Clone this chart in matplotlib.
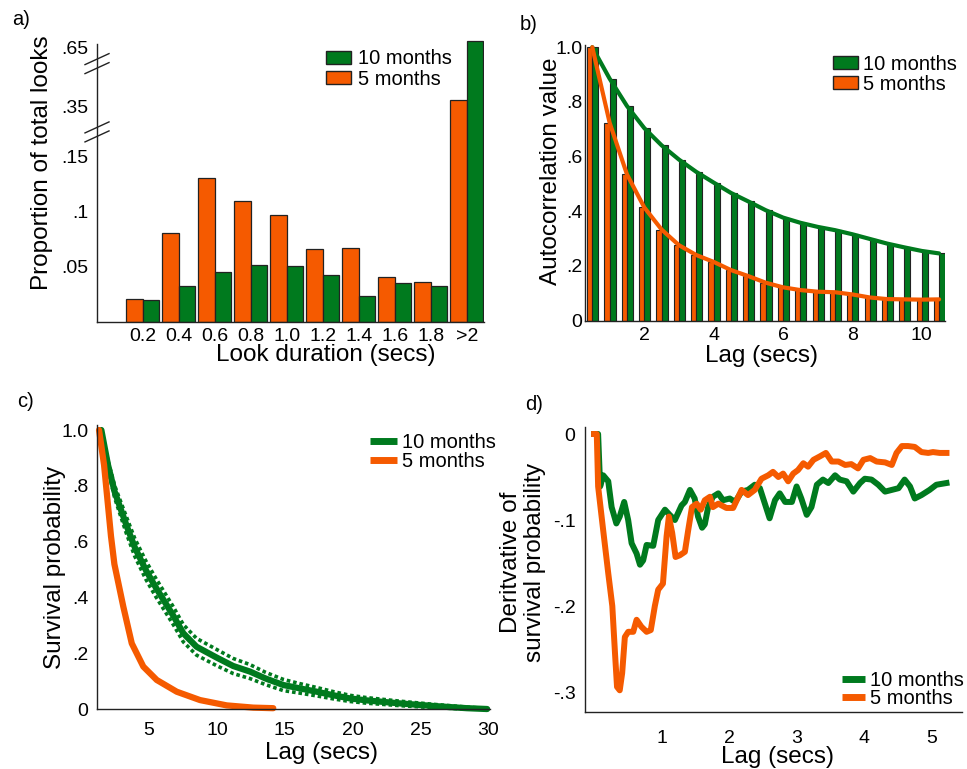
import numpy as np
import matplotlib
matplotlib.use("Agg")
from matplotlib import pyplot as plt
from matplotlib.patches import Patch
from matplotlib.lines import Line2D

plt.rcParams['font.family'] = ['Liberation Sans', 'DejaVu Sans']

GREEN = '#007a1e'
ORANGE = '#f55a00'
W, H = 967, 769

# a) proportion of looks per duration bin
duration_labels = ['0.2', '0.4', '0.6', '0.8', '1.0', '1.2', '1.4', '1.6', '1.8', '>2']
looks_5m = [0.021, 0.081, 0.131, 0.110, 0.097, 0.066, 0.067, 0.041, 0.036, 0.385]
looks_10m = [0.020, 0.033, 0.045, 0.052, 0.051, 0.043, 0.024, 0.035, 0.033, 0.685]

# b) autocorrelation
acf_lags = [0.5, 1.0, 1.5, 2.0, 2.5, 3.0, 3.5, 4.0, 4.5, 5.0, 5.5,
            6.0, 6.5, 7.0, 7.5, 8.0, 8.5, 9.0, 9.5, 10.0, 10.5]
acf_10m = [1.0, 0.885, 0.785, 0.704, 0.641, 0.589, 0.544, 0.505, 0.467, 0.436, 0.404,
           0.377, 0.358, 0.343, 0.331, 0.316, 0.299, 0.282, 0.268, 0.255, 0.246]
acf_5m = [1.0, 0.724, 0.535, 0.414, 0.333, 0.276, 0.24, 0.215, 0.185, 0.163, 0.139,
          0.122, 0.112, 0.106, 0.104, 0.096, 0.085, 0.079, 0.078, 0.077, 0.078]

# c) survival curves
surv_10m_x = [1.49, 1.98, 2.47, 3.33, 3.95, 4.76, 5.49, 6.79, 7.53, 8.5, 9.99, 11.2,
              12.44, 13.6, 14.89, 16.1, 17.35, 18.6, 19.8, 21.0, 23.5, 25.9, 28.4, 29.9]
surv_10m = [1.0, 0.875, 0.779, 0.66, 0.58, 0.499, 0.437, 0.335, 0.272, 0.224, 0.185, 0.155,
            0.135, 0.11, 0.087, 0.075, 0.063, 0.05, 0.039, 0.032, 0.021, 0.012, 0.004, 0.001]
surv_10m_hi = [1.0, 0.89, 0.801, 0.69, 0.612, 0.532, 0.47, 0.367, 0.303, 0.254, 0.214, 0.182,
               0.16, 0.132, 0.107, 0.092, 0.078, 0.063, 0.05, 0.042, 0.029, 0.018, 0.008, 0.003]
surv_10m_lo = [1.0, 0.86, 0.757, 0.63, 0.548, 0.466, 0.404, 0.303, 0.241, 0.194, 0.156, 0.128,
               0.11, 0.088, 0.067, 0.058, 0.048, 0.037, 0.028, 0.022, 0.013, 0.006, 0.001, 0.0]
surv_5m_x = [1.32, 1.69, 2.0, 2.2, 2.45, 3.11, 3.73, 4.58, 5.57, 7.04, 8.76, 10.72, 12.68, 14.15]
surv_5m = [1.0, 0.875, 0.72, 0.62, 0.52, 0.367, 0.236, 0.153, 0.105, 0.063, 0.033, 0.014, 0.006, 0.004]

# d) derivative of survival probability
deriv_10m_x = [0.0, 0.06, 0.09, 0.135, 0.21, 0.26, 0.33, 0.38, 0.446, 0.505, 0.556, 0.63,
               0.68, 0.727, 0.778, 0.876, 0.95, 1.05, 1.12, 1.197, 1.296, 1.345, 1.42, 1.49,
               1.54, 1.60, 1.64, 1.69, 1.76, 1.84, 1.91, 2.01, 2.09, 2.185, 2.28, 2.38,
               2.456, 2.53, 2.60, 2.68, 2.75, 2.83, 2.93, 3.0, 3.07, 3.15, 3.22, 3.30,
               3.39, 3.47, 3.57, 3.64, 3.74, 3.84, 3.94, 4.01, 4.11, 4.21, 4.31, 4.41,
               4.51, 4.60, 4.68, 4.75, 4.85, 4.97, 5.07, 5.22]
deriv_10m = [0.0, 0.0, -0.061, -0.048, -0.055, -0.085, -0.104, -0.096, -0.079, -0.1, -0.127, -0.139,
             -0.152, -0.147, -0.129, -0.130, -0.1, -0.088, -0.094, -0.1, -0.083, -0.079, -0.065, -0.075,
             -0.096, -0.109, -0.105, -0.085, -0.073, -0.069, -0.077, -0.075, -0.079, -0.067, -0.065, -0.059,
             -0.063, -0.081, -0.098, -0.077, -0.069, -0.079, -0.079, -0.061, -0.075, -0.094, -0.085, -0.059,
             -0.053, -0.057, -0.048, -0.053, -0.055, -0.067, -0.057, -0.052, -0.053, -0.059, -0.067, -0.065,
             -0.063, -0.053, -0.061, -0.075, -0.071, -0.065, -0.059, -0.057]
deriv_5m_x = [0.0, 0.04, 0.06, 0.135, 0.21, 0.27, 0.31, 0.34, 0.38, 0.416, 0.456, 0.506,
              0.58, 0.63, 0.70, 0.778, 0.84, 0.90, 0.95, 1.02, 1.074, 1.108, 1.157, 1.207,
              1.27, 1.345, 1.394, 1.45, 1.52, 1.58, 1.64, 1.716, 1.76, 1.84, 1.96, 2.06,
              2.185, 2.28, 2.38, 2.48, 2.58, 2.65, 2.73, 2.80, 2.875, 2.95, 3.02, 3.10,
              3.17, 3.25, 3.345, 3.434, 3.52, 3.62, 3.72, 3.81, 3.91, 3.99, 4.09, 4.185,
              4.31, 4.41, 4.48, 4.56, 4.65, 4.75, 4.85, 4.95, 5.02, 5.12, 5.22]
deriv_5m = [0.0, 0.0, -0.061, -0.112, -0.162, -0.2, -0.255, -0.294, -0.298, -0.278, -0.236, -0.23,
            -0.23, -0.216, -0.224, -0.23, -0.228, -0.2, -0.181, -0.174, -0.119, -0.096, -0.115, -0.143,
            -0.141, -0.137, -0.112, -0.085, -0.081, -0.088, -0.077, -0.073, -0.085, -0.081, -0.086, -0.086,
            -0.065, -0.071, -0.065, -0.052, -0.048, -0.044, -0.050, -0.046, -0.055, -0.046, -0.042, -0.034,
            -0.038, -0.030, -0.026, -0.022, -0.032, -0.032, -0.036, -0.035, -0.040, -0.030, -0.028, -0.032,
            -0.033, -0.036, -0.022, -0.014, -0.014, -0.015, -0.021, -0.022, -0.021, -0.022, -0.022]

fig = plt.figure(figsize=(W / 100, H / 100), dpi=100)


def px_axes(left, top, right, bottom):
    ax = fig.add_axes([left / W, 1 - bottom / H, (right - left) / W, (bottom - top) / H])
    for s in ['top', 'right']:
        ax.spines[s].set_visible(False)
    for s in ['left', 'bottom']:
        ax.spines[s].set_color('#222222')
        ax.spines[s].set_linewidth(1.0)
    ax.tick_params(length=0, labelsize=14)
    return ax


def place_legend(ax, handles, labels, left_px, top_px, **kw):
    ax.legend(handles, labels, loc='upper left',
              bbox_to_anchor=(left_px / W, 1 - top_px / H), bbox_transform=fig.transFigure,
              frameon=False, borderpad=0, borderaxespad=0, fontsize=14.5, **kw)


def line_handle(color):
    return Line2D([], [], color=color, lw=5, solid_capstyle='butt')


def patch_handle(color):
    return Patch(facecolor=color, edgecolor='#222222')


label_font = 17.5

# ---- a)
ax = px_axes(97, 40, 484, 322)
a_vals = [-1, 0, 0.15, 0.35, 0.65, 2]
a_pos = [-1100, 0, 165, 215, 274, 274 + 1.35 * 197]
ax.set_yscale('function', functions=(lambda v: np.interp(v, a_vals, a_pos),
                                     lambda p: np.interp(p, a_pos, a_vals)))
idx = np.arange(len(duration_labels))
ax.bar(idx - 0.23, looks_5m, width=0.46, color=ORANGE, edgecolor='#222222', linewidth=0.9)
ax.bar(idx + 0.23, looks_10m, width=0.46, color=GREEN, edgecolor='#222222', linewidth=0.9)
ax.set_xlim(-1.27, 9.48)
ax.set_ylim(0, 0.69)
ax.spines['left'].set_bounds(0, 0.67)
ax.set_xticks(idx, duration_labels)
ax.set_yticks([0.05, 0.1, 0.15, 0.35, 0.65], ['.05', '.1', '.15', '.35', '.65'])
ax.tick_params(axis='y', pad=6.3)
ax.tick_params(axis='x', pad=4)
ax.set_xlabel('Look duration (secs)', fontsize=label_font)
ax.xaxis.set_label_coords(0.592, -0.078)
ax.set_ylabel('Proportion of total looks', fontsize=label_font)
ax.yaxis.set_label_coords(-0.113, 0.566)
# axis break marks
for b in [0.25, 0.57]:
    yb = ax.transAxes.inverted().transform(ax.transData.transform((0, b)))[1]
    for off in [-4.5 / 282, 4.5 / 282]:
        ax.plot([-12 / 387, 12 / 387], [yb + off - 5.5 / 282, yb + off + 5.5 / 282],
                transform=ax.transAxes, color='#222222', lw=1.0, clip_on=False)
place_legend(ax, [patch_handle(GREEN), patch_handle(ORANGE)],
             ['10 months', '5 months'], 325.7, 49.5, handlelength=1.25, handleheight=0.65,
             handletextpad=0.37, labelspacing=0.05)

# ---- b)
ax = px_axes(585, 45, 945, 320.7)
lags = np.array(acf_lags)
ax.bar(lags - 0.075, acf_5m, width=0.15, color=ORANGE, edgecolor='#222222', linewidth=0.8)
ax.bar(lags + 0.085, acf_10m, width=0.17, color=GREEN, edgecolor='#222222', linewidth=0.8)
ax.plot(lags, acf_10m, color=GREEN, lw=3.0, zorder=3, solid_capstyle='round')
ax.plot(lags, acf_5m, color=ORANGE, lw=3.0, zorder=3, solid_capstyle='round')
ax.set_xlim(0.29, 10.67)
ax.set_ylim(0, 1.008)
ax.set_xticks([2, 4, 6, 8, 10])
ax.set_yticks([0, 0.2, 0.4, 0.6, 0.8, 1.0], ['0', '.2', '.4', '.6', '.8', '1.0'])
ax.tick_params(axis='y', pad=2)
ax.tick_params(axis='x', pad=4.5)
ax.set_xlabel('Lag (secs)', fontsize=label_font)
ax.xaxis.set_label_coords(0.489, -0.087)
ax.set_ylabel('Autocorrelation value', fontsize=label_font)
ax.yaxis.set_label_coords(-0.065, 0.541)
place_legend(ax, [patch_handle(GREEN), patch_handle(ORANGE)],
             ['10 months', '5 months'], 833, 54.5, handlelength=1.25, handleheight=0.65,
             handletextpad=0.25, labelspacing=0.05)

# ---- c)
ax = px_axes(97, 425, 490, 709.3)
ax.plot(surv_10m_x, surv_10m_hi, color=GREEN, lw=2.6, ls=(0, (1, 0.8)), clip_on=False)
ax.plot(surv_10m_x, surv_10m_lo, color=GREEN, lw=2.6, ls=(0, (1, 0.8)), clip_on=False)
ax.plot(surv_10m_x, surv_10m, color=GREEN, lw=4.5, solid_capstyle='round', clip_on=False)
ax.plot(surv_5m_x, surv_5m, color=ORANGE, lw=4.5, solid_capstyle='round', clip_on=False)
ax.set_xlim(1.17, 30.11)
ax.set_ylim(0, 1.018)
ax.set_xticks([5, 10, 15, 20, 25, 30])
ax.set_yticks([0, 0.2, 0.4, 0.6, 0.8, 1.0], ['0', '.2', '.4', '.6', '.8', '1.0'])
ax.tick_params(axis='y', pad=6.3)
ax.tick_params(axis='x', pad=9)
ax.set_xlabel('Lag (secs)', fontsize=label_font)
ax.xaxis.set_label_coords(0.572, -0.115)
ax.set_ylabel('Survival probability', fontsize=label_font)
ax.yaxis.set_label_coords(-0.0785, 0.50)
place_legend(ax, [line_handle(GREEN), line_handle(ORANGE)],
             ['10 months', '5 months'], 370, 433.5, handlelength=1.33,
             handletextpad=0.25, labelspacing=-0.045)

# ---- d)
ax = px_axes(585.3, 426.7, 962, 712.3)
ax.plot(deriv_10m_x, deriv_10m, color=GREEN, lw=4.3, solid_joinstyle='round')
ax.plot(deriv_5m_x, deriv_5m, color=ORANGE, lw=4.3, solid_joinstyle='round')
ax.set_xlim(-0.13, 5.45)
ax.set_ylim(-0.3236, 0.0085)
ax.set_xticks([1, 2, 3, 4, 5])
ax.set_yticks([-0.3, -0.2, -0.1, 0], ['-.3', '-.2', '-.1', '0'])
ax.tick_params(axis='y', pad=7)
ax.tick_params(axis='x', pad=12.5)
ax.set_xlabel('Lag (secs)', fontsize=label_font)
ax.xaxis.set_label_coords(0.509, -0.117)
ax.set_ylabel('Deritvative of\nsurvival probability', fontsize=label_font, linespacing=1.15)
ax.yaxis.set_label_coords(-0.103, 0.526)
place_legend(ax, [line_handle(GREEN), line_handle(ORANGE)],
             ['10 months', '5 months'], 841.7, 671.5, handlelength=1.17,
             handletextpad=0.25, labelspacing=-0.09)

# panel letters
for txt, x, y in [('a)', 12, 25), ('b)', 520, 30), ('c)', 17, 406.7), ('d)', 525, 410)]:
    fig.text(x / W, 1 - y / H, txt, fontsize=14.5, va='baseline', ha='left')

fig.savefig('out.png', dpi=100)
